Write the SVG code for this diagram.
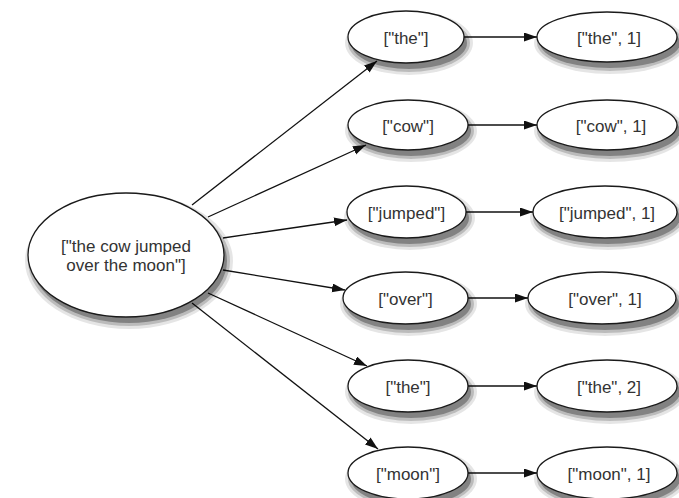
<svg xmlns="http://www.w3.org/2000/svg" width="679" height="498" viewBox="0 0 679 498">
<defs>
<marker id="ah" markerUnits="userSpaceOnUse" markerWidth="15" markerHeight="10" refX="13" refY="4.5" orient="auto">
<path d="M0,0 L13,4.5 L0,9 z" fill="#111"/>
</marker>
</defs>
<style>
.n .b{fill:#fff;stroke:#1a1a1a;stroke-width:1.3}
.n .s{fill:#000;stroke:none}
.n .s1{fill-opacity:0.1}
.n .s2{fill-opacity:0.18}
.n .s3{fill-opacity:0.3}
.n text{font-family:"Liberation Sans",Arial,Helvetica,sans-serif;font-size:17px;fill:#333;text-anchor:middle}
#edges line{stroke:#111;stroke-width:1.3;marker-end:url(#ah)}
</style>
<rect width="679" height="498" fill="#fff"/>
<g id="edges">
<line x1="192" y1="205" x2="377" y2="61"/>
<line x1="208" y1="217" x2="366" y2="145"/>
<line x1="223" y1="238" x2="347" y2="220"/>
<line x1="223" y1="270" x2="345" y2="290"/>
<line x1="208" y1="293" x2="367" y2="366"/>
<line x1="192" y1="303" x2="378" y2="449"/>
<line x1="464" y1="37" x2="537" y2="37"/>
<line x1="468" y1="125" x2="537" y2="125"/>
<line x1="466" y1="212" x2="533" y2="212"/>
<line x1="468" y1="298" x2="528" y2="298"/>
<line x1="468" y1="386" x2="537" y2="386"/>
<line x1="468" y1="473" x2="537" y2="473"/>
</g>
<g id="src" class="n">
<ellipse class="s s1" cx="129" cy="261" rx="104" ry="68"/>
<ellipse class="s s2" cx="129" cy="261" rx="101" ry="65"/>
<ellipse class="s s3" cx="129" cy="261" rx="98" ry="62"/>
<ellipse class="b" cx="126" cy="255" rx="98" ry="62"/><text x="126" y="252">["the cow jumped</text><text x="126" y="271">over the moon"]</text></g>
<g id="m1" class="n">
<ellipse class="s s1" cx="409" cy="43" rx="64" ry="32"/>
<ellipse class="s s2" cx="409" cy="43" rx="61" ry="29"/>
<ellipse class="s s3" cx="409" cy="43" rx="58" ry="26"/>
<ellipse class="b" cx="406" cy="37" rx="58" ry="26"/><text x="406" y="43.5">["the"]</text></g>
<g id="m2" class="n">
<ellipse class="s s1" cx="411" cy="131" rx="66" ry="31"/>
<ellipse class="s s2" cx="411" cy="131" rx="63" ry="28"/>
<ellipse class="s s3" cx="411" cy="131" rx="60" ry="25"/>
<ellipse class="b" cx="408" cy="125" rx="60" ry="25"/><text x="408" y="131.5">["cow"]</text></g>
<g id="m3" class="n">
<ellipse class="s s1" cx="409.5" cy="218" rx="65.5" ry="32"/>
<ellipse class="s s2" cx="409.5" cy="218" rx="62.5" ry="29"/>
<ellipse class="s s3" cx="409.5" cy="218" rx="59.5" ry="26"/>
<ellipse class="b" cx="406.5" cy="212" rx="59.5" ry="26"/><text x="406.5" y="218.5">["jumped"]</text></g>
<g id="m4" class="n">
<ellipse class="s s1" cx="408.5" cy="304" rx="68.5" ry="32"/>
<ellipse class="s s2" cx="408.5" cy="304" rx="65.5" ry="29"/>
<ellipse class="s s3" cx="408.5" cy="304" rx="62.5" ry="26"/>
<ellipse class="b" cx="405.5" cy="298" rx="62.5" ry="26"/><text x="405.5" y="304.5">["over"]</text></g>
<g id="m5" class="n">
<ellipse class="s s1" cx="411" cy="392" rx="66" ry="32"/>
<ellipse class="s s2" cx="411" cy="392" rx="63" ry="29"/>
<ellipse class="s s3" cx="411" cy="392" rx="60" ry="26"/>
<ellipse class="b" cx="408" cy="386" rx="60" ry="26"/><text x="408" y="392.5">["the"]</text></g>
<g id="m6" class="n">
<ellipse class="s s1" cx="411" cy="479" rx="66" ry="32"/>
<ellipse class="s s2" cx="411" cy="479" rx="63" ry="29"/>
<ellipse class="s s3" cx="411" cy="479" rx="60" ry="26"/>
<ellipse class="b" cx="408" cy="473" rx="60" ry="26"/><text x="408" y="479.5">["moon"]</text></g>
<g id="r1" class="n">
<ellipse class="s s1" cx="610" cy="43" rx="76" ry="31"/>
<ellipse class="s s2" cx="610" cy="43" rx="73" ry="28"/>
<ellipse class="s s3" cx="610" cy="43" rx="70" ry="25"/>
<ellipse class="b" cx="607" cy="37" rx="70" ry="25"/><text x="609" y="43.5">["the", 1]</text></g>
<g id="r2" class="n">
<ellipse class="s s1" cx="610" cy="131" rx="76" ry="31"/>
<ellipse class="s s2" cx="610" cy="131" rx="73" ry="28"/>
<ellipse class="s s3" cx="610" cy="131" rx="70" ry="25"/>
<ellipse class="b" cx="607" cy="125" rx="70" ry="25"/><text x="611" y="131.5">["cow", 1]</text></g>
<g id="r3" class="n">
<ellipse class="s s1" cx="608" cy="218" rx="78" ry="32"/>
<ellipse class="s s2" cx="608" cy="218" rx="75" ry="29"/>
<ellipse class="s s3" cx="608" cy="218" rx="72" ry="26"/>
<ellipse class="b" cx="605" cy="212" rx="72" ry="26"/><text x="607" y="218.5">["jumped", 1]</text></g>
<g id="r4" class="n">
<ellipse class="s s1" cx="605" cy="304" rx="80" ry="32"/>
<ellipse class="s s2" cx="605" cy="304" rx="77" ry="29"/>
<ellipse class="s s3" cx="605" cy="304" rx="74" ry="26"/>
<ellipse class="b" cx="602" cy="298" rx="74" ry="26"/><text x="605" y="304.5">["over", 1]</text></g>
<g id="r5" class="n">
<ellipse class="s s1" cx="610" cy="392" rx="76" ry="32"/>
<ellipse class="s s2" cx="610" cy="392" rx="73" ry="29"/>
<ellipse class="s s3" cx="610" cy="392" rx="70" ry="26"/>
<ellipse class="b" cx="607" cy="386" rx="70" ry="26"/><text x="609" y="392.5">["the", 2]</text></g>
<g id="r6" class="n">
<ellipse class="s s1" cx="610" cy="479" rx="76" ry="32"/>
<ellipse class="s s2" cx="610" cy="479" rx="73" ry="29"/>
<ellipse class="s s3" cx="610" cy="479" rx="70" ry="26"/>
<ellipse class="b" cx="607" cy="473" rx="70" ry="26"/><text x="609" y="479.5">["moon", 1]</text></g>
</svg>
